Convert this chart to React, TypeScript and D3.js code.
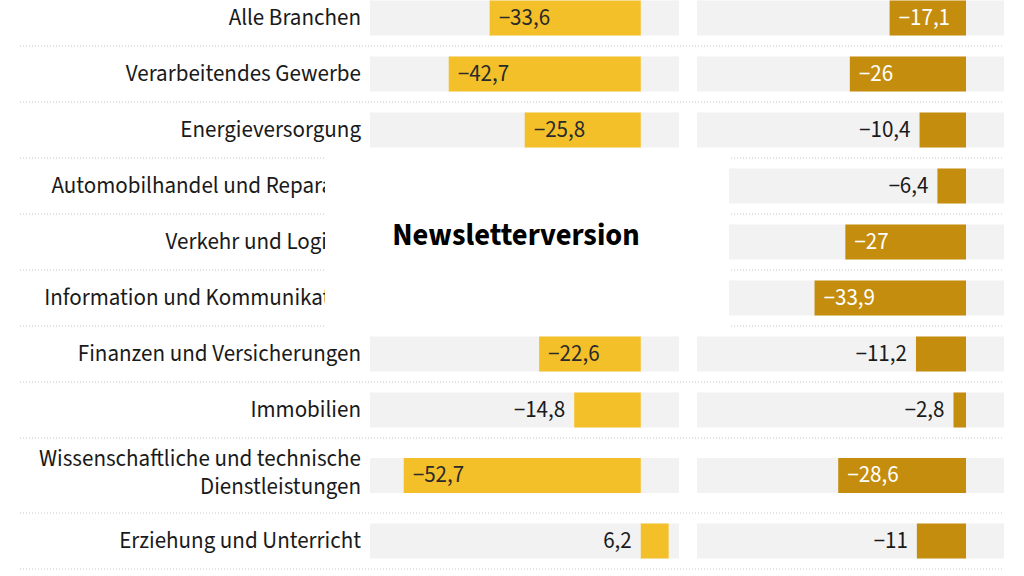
import React, { useEffect, useRef } from "react";
import * as d3 from "d3";

const categories = [
  "Alle Branchen",
  "Verarbeitendes Gewerbe",
  "Energieversorgung",
  "Automobilhandel und Reparatur",
  "Verkehr und Logistik",
  "Information und Kommunikation",
  "Finanzen und Versicherungen",
  "Immobilien",
  "Wissenschaftliche und technische Dienstleistungen",
  "Erziehung und Unterricht",
];

// left values for rows 4-6 are hidden behind the newsletter box
const leftValues: (number | null)[] = [-33.6, -42.7, -25.8, null, null, null, -22.6, -14.8, -52.7, 6.2];
const rightValues: number[] = [-17.1, -26, -10.4, -6.4, -27, -33.9, -11.2, -2.8, -28.6, -11];

const overlayText = "Newsletterversion";

const WIDTH = 1024;
const HEIGHT = 576;
const FONT = "'Source Sans Pro', 'Source Sans 3', Lato, sans-serif";

export default function App() {
  const ref = useRef<SVGSVGElement>(null);

  useEffect(() => {
    const svg = d3.select(ref.current);
    svg.selectAll("*").remove();

    const locale = d3.formatLocale({
      decimal: ",",
      thousands: ".",
      grouping: [3],
      currency: ["", " €"],
      minus: "\u2212",
    });
    const fmt = locale.format(".1~f");

    // row layout (second-to-last row holds a two-line label)
    const rowH = categories.map((c) => (c.length > 40 ? 75 : 56));
    const tops: number[] = [];
    let acc = -10;
    rowH.forEach((h) => {
      tops.push(acc);
      acc += h;
    });

    const x1 = d3.scaleLinear().domain([-60.2, 8.5]).range([370, 679]);
    const x2 = d3.scaleLinear().domain([-60.2, 8.5]).range([697, 1004]);

    const g = svg.append("g").style("font-family", FONT);

    // separators
    g.selectAll("line.sep")
      .data(tops.slice(1).concat([acc]))
      .enter()
      .append("line")
      .attr("x1", 20)
      .attr("x2", 1004)
      .attr("y1", (d) => d)
      .attr("y2", (d) => d)
      .attr("stroke", "#c8c8c8")
      .attr("stroke-width", 1)
      .attr("stroke-dasharray", "1,2");

    const rows = g
      .selectAll("g.row")
      .data(categories)
      .enter()
      .append("g")
      .attr("transform", (_, i) => `translate(0, ${tops[i] + rowH[i] / 2})`);

    // labels
    rows.each(function (c, i) {
      const lines =
        rowH[i] > 56 ? ["Wissenschaftliche und technische", "Dienstleistungen"] : [c];
      lines.forEach((p, k) => {
        d3.select(this)
          .append("text")
          .attr("text-anchor", "end")
          .attr("font-size", 23)
          .attr("fill", "#1a1a1a")
          .attr("x", 361)
          .attr("y", lines.length > 1 ? (k - 0.5) * 28 : 0)
          .attr("dy", lines.length > 1 ? "0.2em" : "0.3em")
          .text(p);
      });
    });

    const panels = [
      { x: x1, vals: leftValues, color: "#f4c02a", inside: "#2a2a2a" },
      { x: x2, vals: rightValues, color: "#c48d0e", inside: "#ffffff" },
    ];

    panels.forEach((p) => {
      const [r0, r1] = p.x.range();
      rows
        .append("rect")
        .attr("x", r0)
        .attr("y", -17.5)
        .attr("width", r1 - r0)
        .attr("height", 35)
        .attr("fill", "#f2f2f2");

      rows.each(function (_, i) {
        const v = p.vals[i];
        if (v == null) return;
        const sel = d3.select(this);
        const z = p.x(0);
        const xv = p.x(v);
        sel
          .append("rect")
          .attr("x", Math.min(z, xv))
          .attr("y", -17.5)
          .attr("width", Math.abs(xv - z))
          .attr("height", 35)
          .attr("fill", p.color);
        const inside = v < 0 && Math.abs(v) >= 16;
        const lbl = sel
          .append("text")
          .attr("font-size", 23)
          .attr("dy", "0.3em")
          .text(fmt(v));
        if (inside) {
          lbl.attr("x", xv + 9).attr("text-anchor", "start").attr("fill", p.inside);
        } else {
          lbl
            .attr("x", Math.min(z, xv) - 9)
            .attr("text-anchor", "end")
            .attr("fill", "#1a1a1a");
        }
      });
    });

    // newsletter cover box
    g.append("rect")
      .attr("x", 325)
      .attr("y", 149)
      .attr("width", 404)
      .attr("height", 185)
      .attr("fill", "#ffffff");
    g.append("text")
      .attr("x", 516)
      .attr("y", 245)
      .attr("text-anchor", "middle")
      .attr("font-size", 30.5)
      .attr("font-weight", 700)
      .attr("fill", "#000")
      .text(overlayText);
  }, []);

  return (
    <svg
      ref={ref}
      width={WIDTH}
      height={HEIGHT}
      style={{ position: "absolute", left: 0, top: 0, background: "#fff" }}
    />
  );
}
